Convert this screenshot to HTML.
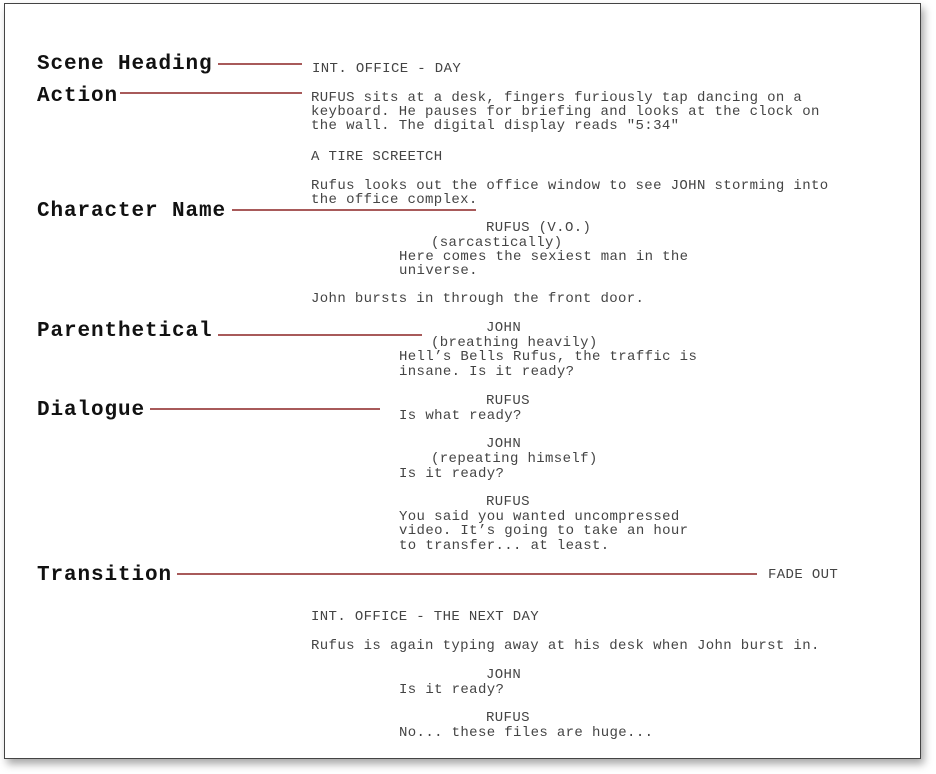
<!DOCTYPE html>
<html><head><meta charset="utf-8"><style>
html,body{margin:0;padding:0;background:#fff;width:936px;height:774px;overflow:hidden;position:relative}
.page{position:absolute;left:4px;top:3px;width:915px;height:754px;border:1.5px solid #444;background:#fff;box-shadow:3px 5px 8px rgba(0,0,0,0.35)}
.t{position:absolute;font-family:"Liberation Mono",monospace;font-size:14px;letter-spacing:0.37px;color:#444;line-height:16px;white-space:pre;height:16px}
.l{position:absolute;font-family:"Liberation Mono",monospace;font-weight:bold;font-size:21px;letter-spacing:0.9px;color:#111;line-height:22px;white-space:pre}
.r{position:absolute;height:2px;background:#a85a5a}
</style></head><body>
<div class="page"></div>
<div class="l" style="left:37px;top:54px">Scene Heading</div>
<div class="l" style="left:37px;top:86px">Action</div>
<div class="l" style="left:37px;top:201px">Character Name</div>
<div class="l" style="left:37px;top:321px">Parenthetical</div>
<div class="l" style="left:37px;top:400px">Dialogue</div>
<div class="l" style="left:37px;top:565px">Transition</div>
<div class="r" style="left:218px;width:84px;top:63px"></div>
<div class="r" style="left:120px;width:182px;top:92px"></div>
<div class="r" style="left:232px;width:244px;top:209px"></div>
<div class="r" style="left:218px;width:204px;top:334px"></div>
<div class="r" style="left:150px;width:230px;top:408px"></div>
<div class="r" style="left:177px;width:580px;top:573px"></div>
<div class="t" style="left:312px;top:61px">INT. OFFICE - DAY</div>
<div class="t" style="left:311px;top:90px">RUFUS sits at a desk, fingers furiously tap dancing on a</div>
<div class="t" style="left:311px;top:104px">keyboard. He pauses for briefing and looks at the clock on</div>
<div class="t" style="left:311px;top:118px">the wall. The digital display reads "5:34"</div>
<div class="t" style="left:311px;top:149px">A TIRE SCREETCH</div>
<div class="t" style="left:311px;top:178px">Rufus looks out the office window to see JOHN storming into</div>
<div class="t" style="left:311px;top:192px">the office complex.</div>
<div class="t" style="left:486px;top:220px">RUFUS (V.O.)</div>
<div class="t" style="left:431px;top:235px">(sarcastically)</div>
<div class="t" style="left:399px;top:249px">Here comes the sexiest man in the</div>
<div class="t" style="left:399px;top:263px">universe.</div>
<div class="t" style="left:311px;top:291px">John bursts in through the front door.</div>
<div class="t" style="left:486px;top:320px">JOHN</div>
<div class="t" style="left:431px;top:335px">(breathing heavily)</div>
<div class="t" style="left:399px;top:349px">Hell’s Bells Rufus, the traffic is</div>
<div class="t" style="left:399px;top:364px">insane. Is it ready?</div>
<div class="t" style="left:486px;top:393px">RUFUS</div>
<div class="t" style="left:399px;top:408px">Is what ready?</div>
<div class="t" style="left:486px;top:436px">JOHN</div>
<div class="t" style="left:431px;top:451px">(repeating himself)</div>
<div class="t" style="left:399px;top:466px">Is it ready?</div>
<div class="t" style="left:486px;top:494px">RUFUS</div>
<div class="t" style="left:399px;top:509px">You said you wanted uncompressed</div>
<div class="t" style="left:399px;top:523px">video. It’s going to take an hour</div>
<div class="t" style="left:399px;top:538px">to transfer... at least.</div>
<div class="t" style="left:768px;top:567px">FADE OUT</div>
<div class="t" style="left:311px;top:609px">INT. OFFICE - THE NEXT DAY</div>
<div class="t" style="left:311px;top:638px">Rufus is again typing away at his desk when John burst in.</div>
<div class="t" style="left:486px;top:667px">JOHN</div>
<div class="t" style="left:399px;top:682px">Is it ready?</div>
<div class="t" style="left:486px;top:710px">RUFUS</div>
<div class="t" style="left:399px;top:725px">No... these files are huge...</div>
</body></html>
